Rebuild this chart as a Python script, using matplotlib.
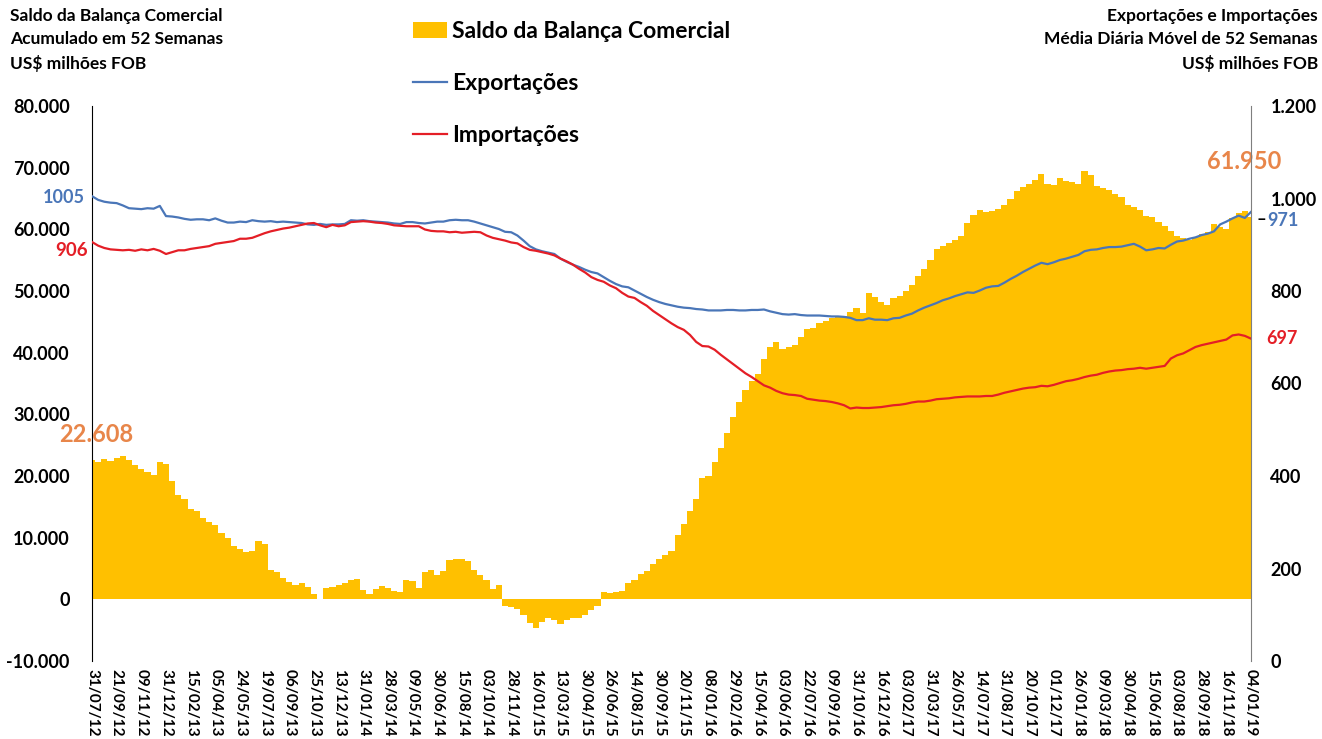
import matplotlib
matplotlib.use('Agg')
import matplotlib.pyplot as plt
from matplotlib.ticker import FuncFormatter, MultipleLocator

plt.rcParams['font.family'] = ['Lato', 'DejaVu Sans']
plt.rcParams['font.weight'] = 'bold'

# tick labels (one every 4 points)
datas = ['31/07/12', '21/09/12', '09/11/12', '31/12/12', '15/02/13', '05/04/13', '24/05/13', '19/07/13',
         '06/09/13', '25/10/13', '13/12/13', '31/01/14', '28/03/14', '09/05/14', '30/06/14', '15/08/14',
         '03/10/14', '28/11/14', '16/01/15', '13/03/15', '30/04/15', '26/06/15', '14/08/15', '30/09/15',
         '20/11/15', '08/01/16', '29/02/16', '15/04/16', '03/06/16', '22/07/16', '09/09/16', '31/10/16',
         '16/12/16', '03/02/17', '31/03/17', '26/05/17', '14/07/17', '31/08/17', '20/10/17', '01/12/17',
         '26/01/18', '09/03/18', '30/04/18', '15/06/18', '03/08/18', '28/09/18', '16/11/18', '04/01/19']

# saldo acumulado em 52 semanas, US$ milhoes
saldo = [22608, 22300, 22800, 22400, 22900, 23200, 22600, 21800, 21200, 20600, 20200, 22300,
         21900, 19200, 17000, 16200, 14600, 14300, 13200, 12600, 12000, 10700, 10000, 8600,
         8200, 7600, 7800, 9400, 9000, 4800, 4400, 3400, 2800, 2400, 2600, 2000,
         800, 100, 1900, 2000, 2300, 2600, 3100, 3300, 1500, 800, 1600, 2100,
         1800, 1300, 1200, 3200, 3000, 1800, 4500, 4800, 4000, 4600, 6400, 6600,
         6500, 6200, 4800, 3900, 3200, 1600, 2400, -1000, -1300, -1600, -2600, -3800,
         -4600, -3700, -3000, -3400, -4000, -3300, -3000, -3100, -2600, -1800, -1000, 1200,
         1100, 1200, 1300, 2600, 3200, 4100, 4600, 5700, 6500, 7200, 7800, 10500,
         12200, 14300, 16200, 19600, 20000, 22200, 24500, 27000, 29500, 32000, 34000, 35400,
         36500, 39000, 41000, 41800, 40600, 41000, 41300, 42600, 43800, 44000, 44800, 45200,
         45600, 45800, 46000, 46600, 47300, 46500, 49600, 49000, 48200, 47800, 48800, 49200,
         50000, 51000, 52500, 53500, 55000, 56800, 57300, 57800, 58200, 59000, 61000, 62300,
         63200, 62800, 63000, 63300, 64000, 65000, 66200, 66800, 67300, 68000, 69000, 67400,
         67200, 68300, 67800, 67600, 67400, 69400, 68800, 67000, 66700, 66300, 65800, 65200,
         64000, 63600, 63200, 62200, 62000, 61200, 60600, 59800, 59000, 58600, 58300, 58800,
         59200, 59600, 60800, 60400, 60000, 61800, 62600, 63000, 61950]

# media diaria movel de 52 semanas, US$ milhoes
exportacoes = [1005, 997, 993, 991, 990, 985, 979, 978, 977, 979, 978, 984,
               962, 961, 959, 956, 954, 955, 955, 953, 957, 952, 948, 948,
               950, 949, 953, 951, 950, 951, 949, 950, 949, 948, 947, 944,
               943, 945, 943, 944, 944, 945, 953, 952, 953, 951, 950, 949,
               948, 946, 945, 949, 949, 947, 946, 948, 950, 950, 953, 954,
               953, 953, 950, 946, 942, 938, 934, 928, 927, 920, 909, 897,
               890, 886, 883, 880, 870, 863, 857, 852, 846, 841, 838, 830,
               822, 815, 810, 808, 801, 794, 787, 781, 776, 772, 769, 766,
               764, 763, 761, 760, 758, 758, 758, 759, 759, 758, 758, 759,
               759, 760, 756, 753, 750, 749, 750, 748, 747, 747, 747, 746,
               745, 745, 744, 742, 737, 737, 741, 738, 738, 737, 741, 742,
               747, 751, 758, 764, 769, 774, 780, 784, 789, 793, 797, 796,
               801, 807, 810, 811, 818, 826, 833, 841, 848, 855, 861, 858,
               862, 867, 870, 874, 878, 886, 889, 890, 893, 895, 895, 896,
               899, 902, 896, 888, 890, 893, 892, 900, 907, 909, 913, 916,
               921, 924, 929, 944, 950, 957, 963, 958, 971]

importacoes = [906, 898, 893, 890, 889, 888, 889, 887, 890, 888, 891, 887,
               880, 884, 888, 888, 891, 893, 895, 897, 902, 904, 906, 908,
               913, 913, 915, 920, 925, 929, 932, 935, 937, 940, 943, 946,
               947, 942, 938, 943, 940, 942, 949, 950, 951, 950, 948, 947,
               945, 942, 941, 940, 940, 940, 933, 930, 929, 929, 927, 928,
               926, 927, 928, 927, 920, 915, 912, 909, 905, 903, 895, 889,
               887, 884, 881, 877, 870, 864, 857, 848, 840, 830, 824, 820,
               812, 806, 796, 788, 785, 776, 768, 757, 748, 739, 730, 722,
               716, 705, 690, 681, 680, 673, 662, 652, 642, 632, 622, 614,
               605, 596, 591, 584, 579, 576, 575, 573, 567, 565, 563, 562,
               560, 557, 553, 546, 548, 547, 547, 548, 549, 551, 553, 554,
               556, 559, 561, 561, 563, 566, 567, 568, 570, 571, 572, 572,
               572, 573, 573, 576, 580, 583, 586, 589, 591, 592, 595, 594,
               597, 601, 605, 607, 610, 614, 617, 619, 623, 626, 628, 629,
               631, 632, 634, 632, 634, 636, 638, 654, 661, 665, 672, 679,
               683, 686, 689, 692, 695, 704, 706, 703, 697]

cor_saldo = '#FFC000'
cor_exp = '#4A76B8'
cor_imp = '#E41E26'
cor_rot = '#E8864A'


def fmt(v):
    return f'{int(v):,}'.replace(',', '.')


x = list(range(len(saldo)))

fig = plt.figure(figsize=(13.22, 7.39), dpi=100)
ax = fig.add_axes([92 / 1322, 1 - 661 / 739, (1251 - 92) / 1322, (661 - 106) / 739])
ax2 = ax.twinx()

barras = ax.bar(x, saldo, width=1.0, color=cor_saldo, linewidth=0, label='Saldo da Balança Comercial')
l1, = ax2.plot(x, exportacoes, color=cor_exp, lw=1.6, label='Exportações')
l2, = ax2.plot(x, importacoes, color=cor_imp, lw=1.6, label='Importações')

ax.set_xlim(0, len(saldo) - 1)
ax.set_ylim(-10000, 80000)
ax2.set_ylim(0, 1200)
ax.yaxis.set_major_locator(MultipleLocator(10000))
ax2.yaxis.set_major_locator(MultipleLocator(200))
ax.yaxis.set_major_formatter(FuncFormatter(lambda v, p: fmt(v)))
ax2.yaxis.set_major_formatter(FuncFormatter(lambda v, p: fmt(v)))

ax.set_xticks(range(0, len(saldo), 4))
ax.set_xticklabels(datas, rotation=-90, fontsize=11, fontweight='bold')

for a in (ax, ax2):
    a.spines['top'].set_visible(False)
    a.spines['bottom'].set_visible(False)
ax.spines['right'].set_visible(False)
ax2.spines['left'].set_visible(False)
ax.spines['left'].set_color('black')
ax2.spines['right'].set_color('#7f7f7f')

ax.tick_params(axis='y', length=0, pad=16, labelsize=13)
ax.tick_params(axis='x', length=0, pad=6)
ax2.tick_params(axis='y', length=0, pad=14, labelsize=13)

# rotulos dos valores inicial e final
ax.annotate(fmt(saldo[0]), xy=(0, saldo[0]), xytext=(3, 18), textcoords='offset points',
            ha='center', va='center', color=cor_rot, fontsize=17, fontweight='bold')
ax.annotate(fmt(saldo[-1]), xy=(x[-1], saldo[-1]), xytext=(-5, 40), textcoords='offset points',
            ha='center', va='center', color=cor_rot, fontsize=17, fontweight='bold')
ax2.annotate(str(exportacoes[0]), xy=(0, exportacoes[0]), xytext=(-5, -1), textcoords='offset points',
             ha='right', va='center', color=cor_exp, fontsize=13, fontweight='bold')
ax2.annotate(str(importacoes[0]), xy=(0, importacoes[0]), xytext=(-3, -6), textcoords='offset points',
             ha='right', va='center', color=cor_imp, fontsize=13.5, fontweight='bold')
ax2.annotate('–', xy=(x[-1], exportacoes[-1]), xytext=(4, -5), textcoords='offset points',
             ha='left', va='center', color='black', fontsize=12)
ax2.annotate(str(exportacoes[-1]), xy=(x[-1], exportacoes[-1]), xytext=(12, -6), textcoords='offset points',
             ha='left', va='center', color=cor_exp, fontsize=13, fontweight='bold')
ax2.annotate(str(importacoes[-1]), xy=(x[-1], importacoes[-1]), xytext=(11, 0), textcoords='offset points',
             ha='left', va='center', color=cor_imp, fontsize=13, fontweight='bold')

# legenda
fig.legend([barras, l1, l2], ['Saldo da Balança Comercial', 'Exportações', 'Importações'],
           loc='upper left', bbox_to_anchor=(413 / 1322, 1 - 21 / 739), frameon=False,
           fontsize=16.5, handlelength=1.5, handletextpad=0.2, labelspacing=1.35,
           borderpad=0, borderaxespad=0)

# titulos dos eixos
esq = ['Saldo da Balança Comercial', 'Acumulado em 52 Semanas', 'US$ milhões FOB']
dir_ = ['Exportações e Importações', 'Média Diária Móvel de 52 Semanas', 'US$ milhões FOB']
for i, (a, b) in enumerate(zip(esq, dir_)):
    yy = 1 - (16 + i * 23.5) / 739
    fig.text(10 / 1322, yy, a, ha='left', va='center', fontsize=12.5, fontweight='bold')
    fig.text(1318 / 1322, yy, b, ha='right', va='center', fontsize=12.5, fontweight='bold')

fig.savefig('out.png', dpi=100, facecolor='white')
